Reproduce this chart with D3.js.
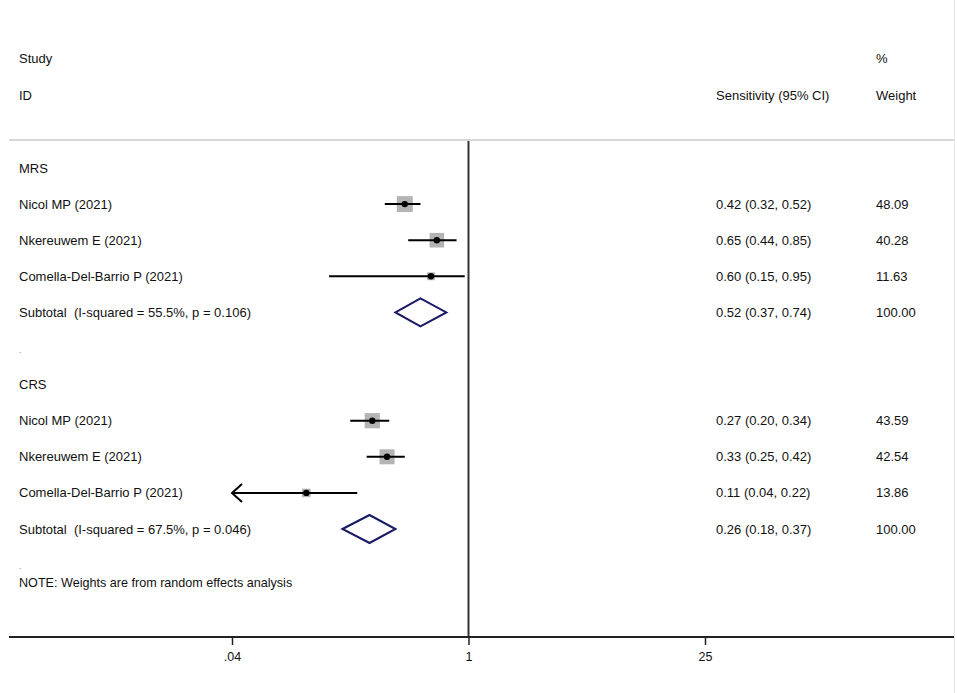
<!DOCTYPE html>
<html><head><meta charset="utf-8">
<script src="https://cdn.jsdelivr.net/npm/d3@7"></script>
<style>body{margin:0;background:#fff}svg{display:block;font-family:"Liberation Sans",Arial,sans-serif}text{white-space:pre}</style>
</head><body><div id="chart"></div>
<script>
const groupNames = ["MRS", "CRS"];
const studyNames = ["Nicol MP (2021)", "Nkereuwem E (2021)", "Comella-Del-Barrio P (2021)"];
const mrsEst = [0.42, 0.65, 0.60];
const mrsLo = [0.32, 0.44, 0.15];
const mrsHi = [0.52, 0.85, 0.95];
const mrsWeight = [48.09, 40.28, 11.63];
const crsEst = [0.27, 0.33, 0.11];
const crsLo = [0.20, 0.25, 0.04];
const crsHi = [0.34, 0.42, 0.22];
const crsWeight = [43.59, 42.54, 13.86];
const subtotalEst = [0.52, 0.26];
const subtotalLo = [0.37, 0.18];
const subtotalHi = [0.74, 0.37];
const subtotalLabels = ["Subtotal  (I-squared = 55.5%, p = 0.106)", "Subtotal  (I-squared = 67.5%, p = 0.046)"];
const tickValues = [0.04, 1, 25];
const tickLabels = [".04", "1", "25"];

const W = 957, H = 693;
const svg = d3.select("#chart").append("svg").attr("width", W).attr("height", H);
const x = d3.scaleLog().domain([0.04, 25]).range([232, 705]);
const fmt = d3.format(".2f");

const rows = [];
const groupData = [
  {est: mrsEst, lo: mrsLo, hi: mrsHi, w: mrsWeight},
  {est: crsEst, lo: crsLo, hi: crsHi, w: crsWeight}
];
groupNames.forEach((g, gi) => {
  rows.push({type: "header", label: g});
  studyNames.forEach((s, i) => rows.push({type: "study", label: s, est: groupData[gi].est[i], lo: groupData[gi].lo[i], hi: groupData[gi].hi[i], w: groupData[gi].w[i]}));
  rows.push({type: "subtotal", label: subtotalLabels[gi], est: subtotalEst[gi], lo: subtotalLo[gi], hi: subtotalHi[gi], w: 100});
  rows.push({type: "dot", label: "."});
});
const rowStart = 168, rowStep = 36.1;
const y = i => rowStart + i * rowStep;

svg.append("line").attr("x1", 9).attr("x2", 954).attr("y1", 140).attr("y2", 140).attr("stroke", "#c8c8c8").attr("stroke-width", 1.5);
svg.append("line").attr("x1", 954.5).attr("x2", 954.5).attr("y1", 0).attr("y2", H).attr("stroke", "#e6e6e6").attr("stroke-width", 1);

svg.append("line").attr("x1", x(1)).attr("x2", x(1)).attr("y1", 141).attr("y2", 637).attr("stroke", "#333").attr("stroke-width", 2);

const axis = d3.axisBottom(x).tickValues(tickValues).tickFormat((d, i) => tickLabels[i]).tickSize(8).tickSizeOuter(0);
const ag = svg.append("g").attr("transform", "translate(0,637)").call(axis);
ag.select(".domain").remove();
ag.selectAll(".tick line").attr("stroke", "#222").attr("stroke-width", 1.5);
ag.selectAll(".tick text").attr("font-size", 12.5).attr("fill", "#111").attr("font-family", "'Liberation Sans',Arial,sans-serif").attr("dy", "1.05em");
svg.append("line").attr("x1", 9).attr("x2", 954).attr("y1", 637).attr("y2", 637).attr("stroke", "#222").attr("stroke-width", 2);

const txt = (tx, ty, t, size) => svg.append("text").attr("x", tx).attr("y", ty).attr("dy", "0.35em").attr("font-size", size || 13).attr("fill", "#111").text(t);
txt(19, 58, "Study");
txt(19, 95, "ID");
txt(716, 95, "Sensitivity (95% CI)");
txt(876, 58, "%");
txt(876, 95, "Weight");

rows.forEach((r, i) => {
  const yy = y(i);
  if (r.type === "dot") {
    svg.append("text").attr("x", 19).attr("y", yy + 4).attr("font-size", 8).attr("fill", "#333").text(".");
    return;
  }
  txt(19, yy, r.label);
  if (r.type === "header") return;
  txt(716, yy, `${fmt(r.est)} (${fmt(r.lo)}, ${fmt(r.hi)})`);
  txt(876, yy, fmt(r.w));
  if (r.type === "study") {
    const side = 2.3 * Math.sqrt(r.w);
    svg.append("rect").attr("x", x(r.est) - side / 2).attr("y", yy - side / 2).attr("width", side).attr("height", side).attr("fill", "#b4b4b4");
    const clipped = r.lo <= x.domain()[0];
    svg.append("line").attr("x1", x(Math.max(r.lo, x.domain()[0]))).attr("x2", x(r.hi)).attr("y1", yy).attr("y2", yy).attr("stroke", "#000").attr("stroke-width", 2);
    if (clipped) {
      const ax = x(x.domain()[0]);
      svg.append("path").attr("d", `M${ax + 10},${yy - 9}L${ax},${yy}L${ax + 10},${yy + 9}`).attr("fill", "none").attr("stroke", "#000").attr("stroke-width", 2);
    }
    svg.append("circle").attr("cx", x(r.est)).attr("cy", yy).attr("r", 3.2).attr("fill", "#000");
  } else {
    const h = 14;
    svg.append("path").attr("d", `M${x(r.lo)},${yy}L${x(r.est)},${yy - h}L${x(r.hi)},${yy}L${x(r.est)},${yy + h}Z`).attr("fill", "none").attr("stroke", "#1a1a66").attr("stroke-width", 2);
  }
});

svg.append("text").attr("x", 19).attr("y", 583).attr("dy", "0.35em").attr("font-size", 12.6).attr("fill", "#111").text("NOTE: Weights are from random effects analysis");
</script></body></html>
